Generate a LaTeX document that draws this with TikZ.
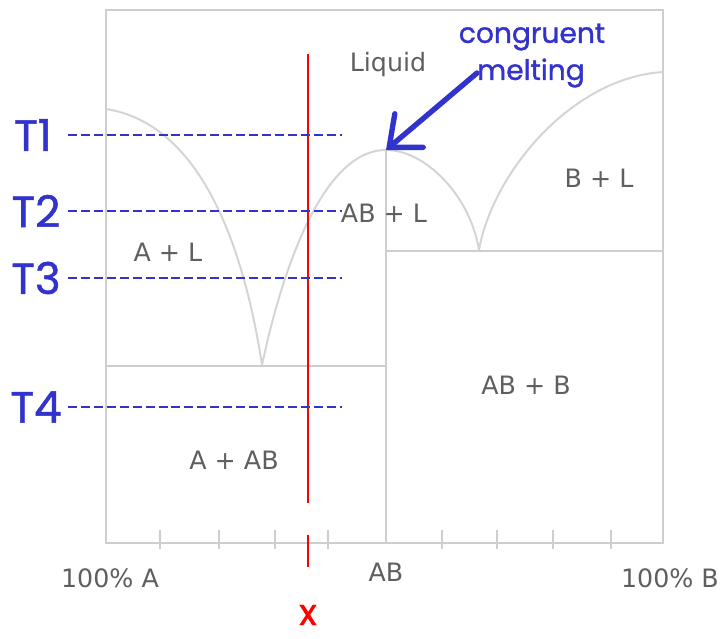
\documentclass[tikz,border=0pt]{standalone}
\usepackage{fontspec}
\usetikzlibrary{arrows.meta}
\newfontfamily\handfont{Poppins}[FakeBold=1.2]
\newfontfamily\plotfont{DejaVu Sans}
\definecolor{phBlue}{RGB}{50,50,204}
\definecolor{phRed}{RGB}{255,0,0}
\definecolor{phFrame}{RGB}{206,206,206}
\definecolor{phCurve}{RGB}{212,212,212}
\definecolor{phText}{RGB}{95,95,95}
\tikzset{
  phframe/.style={draw=phFrame, line width=2pt},
  phcurve/.style={draw=phCurve, line width=1.4pt},
  phlabel/.style={font=\plotfont\fontsize{18}{20}\selectfont,
    text=phText, inner sep=1pt},
  tlabel/.style={font=\handfont\fontsize{31}{34}\selectfont,
    text=phBlue, inner sep=1pt},
  tline/.style={draw=phBlue, line width=1pt, dash pattern=on 6.4pt off 2.8pt},
  note/.style={font=\handfont\fontsize{20}{22}\selectfont,
    text=phBlue, inner sep=0pt}
}

\begin{document}
\begin{tikzpicture}[x=0.025cm, y=-0.025cm,
  tick/.style={draw=phFrame, line width=1.2pt},
  cut/.style={draw=phRed, line width=1pt}
]
\path[use as bounding box] (0,0) rectangle (728,638);

\coordinate (peak) at (386,150);
\coordinate (eutl) at (262,365);
\coordinate (eutr) at (479,250);

% frame and phase boundaries
\draw[phframe] (106,10) rectangle (663,543);
\draw[phframe] (106,366) -- (386,366);
\draw[phframe] (386,251) -- (663,251);
\draw[phframe] (peak) -- (386,543);
\foreach \tx in {160,219,275,328,442,497,553,611}
  \draw[tick] (\tx,530) -- (\tx,549);

\draw[phcurve] (106,109) .. controls (196,123) and (242,235) .. (eutl);
\draw[phcurve] (eutl) .. controls (280,280) and (320,150) .. (peak);
\draw[phcurve] (peak) .. controls (425,150) and (470,195) .. (eutr);
\draw[phcurve] (eutr) .. controls (492,175) and (570,78) .. (663,72);

\node[phlabel] (liq) at (388,65) {Liquid};
\node[phlabel] (al) at (168,252) {A + L};
\node[phlabel] (abl) at (384,213) {AB + L};
\node[phlabel] (bl) at (599,178) {B + L};
\node[phlabel] (aab) at (234,460) {A + AB};
\node[phlabel] (abb) at (526,385) {AB + B};
\node[phlabel] (pa) at (110,578) {100\% A};
\node[phlabel] (pab) at (386,572) {AB};
\node[phlabel] (pb) at (670,578) {100\% B};

% composition x
\draw[cut] (308,54) -- (308,503);
\draw[cut] (308,535) -- (308,567);
\node[font=\handfont\fontsize{26}{28}\selectfont, text=phRed, inner sep=0pt,
  anchor=base, text height=1ex, text depth=0pt] (xmark) at (308,625) {x};

% temperatures
\node[tlabel] (t1) at (33,135) {T1};
\node[tlabel] (t2) at (36,211) {T2};
\node[tlabel] (t3) at (36,278) {T3};
\node[tlabel] (t4) at (36,407) {T4};
\foreach \t/\ty in {t1/135,t2/211,t3/278,t4/407} {
  \coordinate (\t e) at (342,\ty);
  \draw[tline] (68,\ty) -- (\t e);
}

\node[note] (cong) at (532,37) {congruent};
\node[note, anchor=west] (melt) at (477,73) {melting};
\draw[phBlue, line width=3.8pt, line cap=round,
  -{Straight Barb[length=6.5mm, width=11mm, line cap=round]}] (melt.west) -- (peak);
\end{tikzpicture}
\end{document}
